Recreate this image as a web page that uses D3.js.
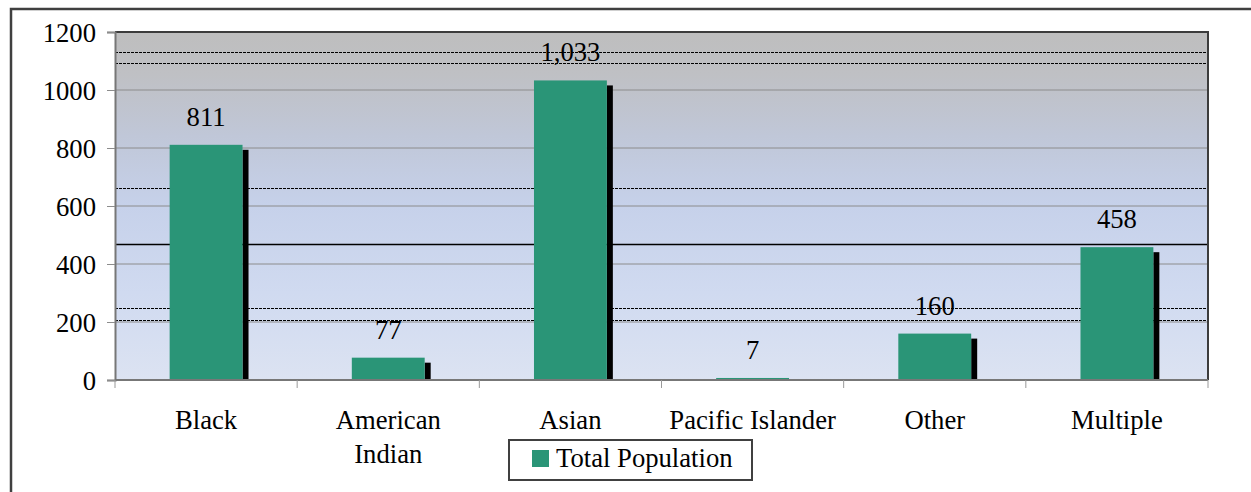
<!DOCTYPE html>
<html><head><meta charset="utf-8">
<script src="https://cdn.jsdelivr.net/npm/d3@7"></script>
<style>
html,body{margin:0;padding:0;background:#fff;}
svg text{font-family:"Liberation Serif","Times New Roman",Times,"DejaVu Serif",serif !important;}
</style></head>
<body>
<svg id="c" width="1251" height="492"></svg>
<script>
const categories = ["Black", "American Indian", "Asian", "Pacific Islander", "Other", "Multiple"];
const values = [811, 77, 1033, 7, 160, 458];
const yTicks = [0, 200, 400, 600, 800, 1000, 1200];
const seriesName = "Total Population";
// stray horizontal rules visible in the source image (value positions)
const ruleValues = [1131, 1093, 662, 469, 248, 207];
const ruleSolid = [false, false, false, true, false, false];

const FONT = '"Liberation Serif","Times New Roman",Times,"DejaVu Serif",serif';
const FS = 26.67;
const svg = d3.select("#c");
const L = 115, R = 1208, T = 32, B = 380;
const x = d3.scaleBand().domain(categories).range([L, R]).paddingInner(0.6).paddingOuter(0.3);
const xb = d3.scaleBand().domain(categories).range([L, R]);
const y = d3.scaleLinear().domain([0, 1200]).range([B, T]);

// outer border
svg.append("rect").attr("x", 11).attr("y", 9).attr("width", 1300).attr("height", 600)
  .attr("fill", "#fff").attr("stroke", "#404040").attr("stroke-width", 2.5);

const defs = svg.append("defs");
const g = defs.append("linearGradient").attr("id", "bg").attr("x1", 0).attr("y1", 0).attr("x2", 0).attr("y2", 1);
[[0, "#bebebe"], [0.12, "#bfc0c4"], [0.3, "#c0c7d8"], [0.5, "#c6d1ea"], [0.75, "#d0daf0"], [1, "#dce3f2"]]
  .forEach(([o, c]) => g.append("stop").attr("offset", o).attr("stop-color", c));

svg.append("rect").attr("x", L).attr("y", T).attr("width", R - L).attr("height", B - T).attr("fill", "url(#bg)");

// gridlines
svg.append("g").selectAll("line").data(yTicks.filter(d => d > 0 && d < 1200)).join("line")
  .attr("x1", L).attr("x2", R).attr("y1", d => y(d)).attr("y2", d => y(d))
  .attr("stroke", "#8c8c8c").attr("stroke-width", 1);

// stray rules
svg.append("g").selectAll("line").data(ruleValues).join("line")
  .attr("x1", L).attr("x2", R).attr("y1", d => Math.round(y(d)) + 0.5).attr("y2", d => Math.round(y(d)) + 0.5)
  .attr("stroke", "#000").attr("stroke-width", (d, i) => ruleSolid[i] ? 1.4 : 1)
  .attr("stroke-dasharray", (d, i) => ruleSolid[i] ? null : "3,1");

// shadows
svg.append("g").selectAll("rect").data(values).join("rect")
  .attr("x", (d, i) => x(categories[i]) + x.bandwidth())
  .attr("y", d => Math.min(y(d) + 5, B))
  .attr("width", 6)
  .attr("height", d => Math.max(0, B - y(d) - 5))
  .attr("fill", "#000");

// bars
svg.append("g").selectAll("rect").data(values).join("rect")
  .attr("x", (d, i) => x(categories[i]))
  .attr("y", d => y(d))
  .attr("width", x.bandwidth())
  .attr("height", d => B - y(d))
  .attr("fill", "#2a9577");

// plot border top/right
svg.append("path").attr("d", `M${L},${T}H${R}V${B}`).attr("fill", "none")
  .attr("stroke", "#3c3c3c").attr("stroke-width", 2);

// y axis
const ya = svg.append("g").attr("transform", `translate(${L},0)`)
  .call(d3.axisLeft(y).tickValues(yTicks).tickSize(8).tickPadding(11).tickFormat(d3.format("d")));
ya.attr("font-family", FONT).attr("font-size", FS);
ya.select(".domain").attr("stroke", "#777").attr("stroke-width", 2);
ya.selectAll(".tick line").attr("stroke", "#8c8c8c");
ya.selectAll("text").attr("font-size", FS).attr("fill", "#000").attr("font-family", FONT).attr("dy", "0.37em");

// x axis
const xa = svg.append("g").attr("transform", `translate(0,${B})`);
xa.append("line").attr("x1", L).attr("x2", R).attr("y1", 0).attr("y2", 0).attr("stroke", "#777").attr("stroke-width", 2);
xa.selectAll(".tk").data(categories.concat(["__end"])).join("line")
  .attr("x1", (d, i) => i < categories.length ? xb(d) : R)
  .attr("x2", (d, i) => i < categories.length ? xb(d) : R)
  .attr("y1", 0).attr("y2", 8).attr("stroke", "#999");

const catText = xa.selectAll("text").data(categories).join("text")
  .attr("text-anchor", "middle").attr("font-size", FS).attr("font-family", FONT).attr("fill", "#000")
  .attr("x", d => xb(d) + xb.bandwidth() / 2)
  .attr("y", 49);
catText.each(function(d) {
  const t = d3.select(this);
  const xc = xb(d) + xb.bandwidth() / 2;
  const parts = d === "American Indian" ? ["American", "Indian"] : [d];
  parts.forEach((p, k) => t.append("tspan").attr("x", xc).attr("dy", k === 0 ? 0 : 33.5).text(p));
});

// value labels
const fmt = d3.format(",");
svg.append("g").selectAll("text").data(values).join("text")
  .attr("text-anchor", "middle").attr("font-size", FS).attr("font-family", FONT).attr("fill", "#000")
  .attr("x", (d, i) => x(categories[i]) + x.bandwidth() / 2)
  .attr("y", d => y(d) - 19)
  .text(d => fmt(d));

// legend
const lg = svg.append("g");
lg.append("rect").attr("x", 509).attr("y", 440).attr("width", 243).attr("height", 40)
  .attr("fill", "#fff").attr("stroke", "#404040").attr("stroke-width", 2);
lg.append("rect").attr("x", 532).attr("y", 450).attr("width", 17).attr("height", 17).attr("fill", "#2a9577");
lg.append("text").attr("x", 556).attr("y", 467).attr("font-size", FS).attr("font-family", FONT).attr("fill", "#000").text(seriesName);
</script>
</body></html>
